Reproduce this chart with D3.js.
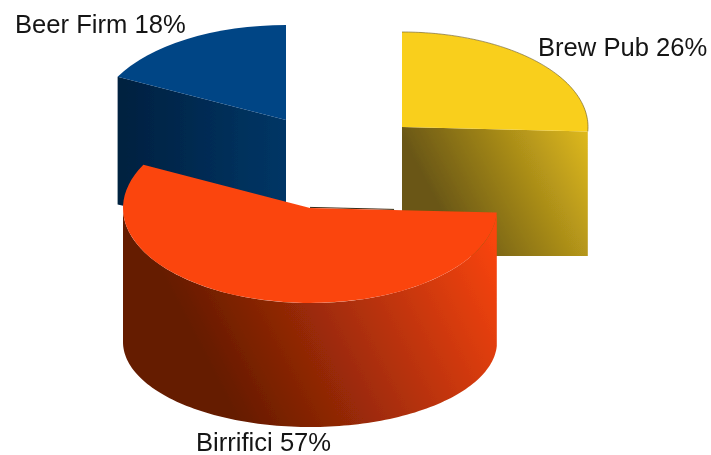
<!DOCTYPE html>
<html><head><meta charset="utf-8">
<script src="https://cdn.jsdelivr.net/npm/d3@7"></script>
<style>html,body{margin:0;padding:0;background:#fff}svg{display:block}text{font-family:"Liberation Sans",Arial,sans-serif;font-size:25.6px;fill:#151515}</style>
</head><body><svg id="c" width="711" height="455"></svg>
<script>
const categories = ["Birrifici", "Beer Firm", "Brew Pub"];
const shares = [56.75, 17.5, 25.75];
const labels = ["Birrifici 57%", "Beer Firm 18%", "Brew Pub 26%"];

const ry = 95, ryBottom = 85;
const radii = {"Birrifici": 187, "Beer Firm": 189, "Brew Pub": 186};
const centers = {"Birrifici": [310, 208], "Beer Firm": [286, 120], "Brew Pub": [402, 127]};
const bottoms = {"Birrifici": 342, "Beer Firm": 243, "Brew Pub": 256};
const labelPos = {"Birrifici": [196, 451], "Beer Firm": [15, 33], "Brew Pub": [538, 56]};
const topColor = {"Birrifici": "#fb4510", "Beer Firm": "#024485", "Brew Pub": "#f9cf1f"};
const gradDefs = {
  "Birrifici": {v: [225, 395, 505, 250], stops: ["#651b02", "#fb4510"]},
  "Beer Firm": {v: [117, 150, 286, 150], stops: ["#01203f", "#013666"]},
  "Brew Pub": {v: [420, 170, 590, 80], stops: ["#6a5712", "#f0c820"]}
};
const drawOrder = ["Beer Firm", "Brew Pub", "Birrifici"];
const startDeg = 92.7;

const svg = d3.select("#c");
const defs = svg.append("defs");
defs.append("filter").attr("id", "soft").append("feGaussianBlur").attr("stdDeviation", 0.45);
const root = svg.append("g").attr("filter", "url(#soft)");

const rad = d3.scaleLinear().domain([0, 360]).range([0, 2 * Math.PI]);
const pie = d3.pie().sort(null).startAngle(rad(startDeg)).endAngle(rad(startDeg + 360))
  .value((d, i) => shares[i]);
const arcs = pie(categories);
const line = d3.line();
const norm = a => ((a % (2 * Math.PI)) + 2 * Math.PI) % (2 * Math.PI);

categories.forEach((c, i) => {
  const g = gradDefs[c];
  const lg = defs.append("linearGradient").attr("id", "g" + i).attr("gradientUnits", "userSpaceOnUse")
    .attr("x1", g.v[0]).attr("y1", g.v[1]).attr("x2", g.v[2]).attr("y2", g.v[3]);
  lg.append("stop").attr("offset", 0).attr("stop-color", g.stops[0]);
  lg.append("stop").attr("offset", 1).attr("stop-color", g.stops[1]);
});

drawOrder.forEach(name => {
  const i = categories.indexOf(name), d = arcs[i], [cx, cy] = centers[name];
  const rx = radii[name], botY = bottoms[name];
  const g = root.append("g"), fill = `url(#g${i})`;
  const top = a => [cx + rx * Math.sin(a), cy - ry * Math.cos(a)];
  const bot = a => [cx + rx * Math.sin(a), botY - ryBottom * Math.cos(a)];
  const a0 = d.startAngle, a1 = d.endAngle;

  // curved front wall: only the part of the sweep facing the viewer
  const f0 = Math.max(a0, Math.PI / 2), f1 = Math.min(a1, 3 * Math.PI / 2);
  if (f1 > f0) {
    const ts = d3.range(0, 1.0001, 1 / 120).map(t => f0 + (f1 - f0) * t);
    g.append("path").attr("d", line([...ts.map(top), ...ts.map(bot).reverse()]) + "Z").attr("fill", fill);
    // thin dark back edge of the slice, showing on the white gap
    const e = top(a0);
    g.append("path").attr("d", line([[cx, cy - 0.6], [cx + (e[0] - cx) * 0.45, cy + (e[1] - cy) * 0.45 - 0.6]]))
      .attr("stroke", "#3a2a14").attr("stroke-width", 1).attr("fill", "none");
  }
  // flat cut faces that face the viewer
  const n0 = norm(a0), n1 = norm(a1);
  if (n0 > Math.PI) g.append("path").attr("d", line([[cx, cy], top(a0), bot(a0), [cx, botY]]) + "Z").attr("fill", fill);
  if (n1 > 0 && n1 < Math.PI && f1 <= f0) {
    const b = bot(a1);
    g.append("path").attr("d", line([[cx, cy], top(a1), [b[0], botY], [cx, botY]]) + "Z").attr("fill", fill);
  }
  // top face
  const arcGen = d3.arc().innerRadius(0).outerRadius(rx);
  g.append("path").attr("transform", `translate(${cx},${cy}) scale(1,${ry / rx})`)
    .attr("d", arcGen(d)).attr("fill", topColor[name]);
  if (name === "Brew Pub") {
    const ts = d3.range(0, 1.0001, 1 / 90).map(t => a0 + (a1 - a0) * t);
    g.append("path").attr("d", line(ts.map(top))).attr("fill", "none").attr("stroke", "#5b4a10")
      .attr("stroke-width", 0.8).attr("stroke-opacity", .7);
  }
});

categories.forEach((c, i) => {
  svg.append("text").attr("x", labelPos[c][0]).attr("y", labelPos[c][1]).text(labels[i]);
});
</script></body></html>
